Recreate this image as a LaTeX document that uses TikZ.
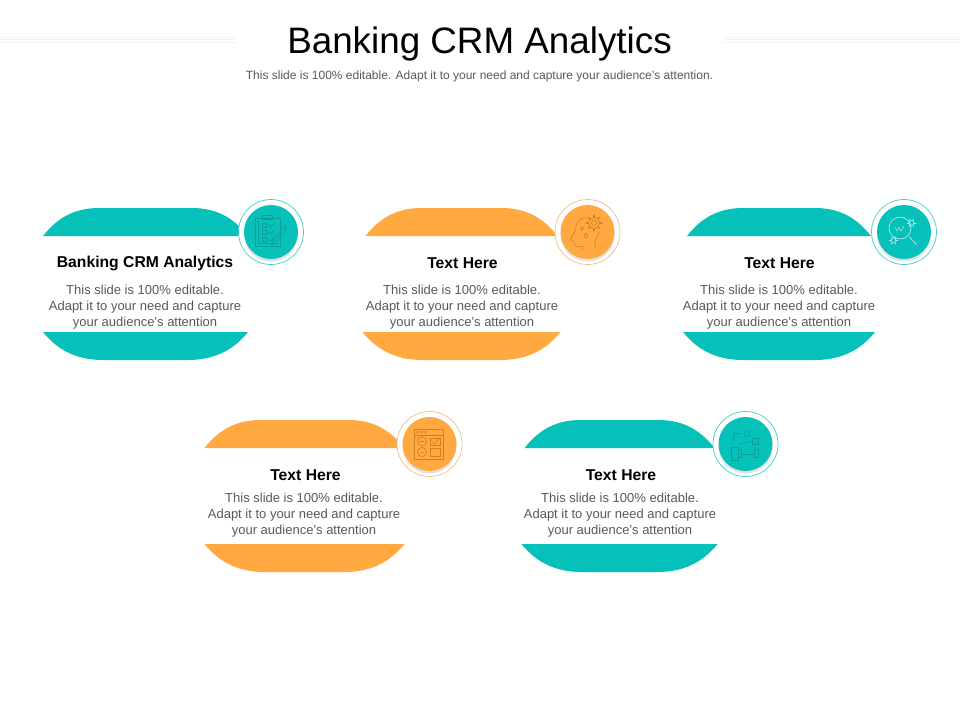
\documentclass[tikz,border=0pt]{standalone}
\usepackage{fontspec}
\setmainfont{Liberation Sans}
\definecolor{tealc}{HTML}{05C1BA}
\definecolor{orangec}{HTML}{FFA940}
\definecolor{bodytxt}{HTML}{595959}
\definecolor{rulec}{HTML}{F1F1F1}
\definecolor{teallineA}{HTML}{0B9F99}
\definecolor{teallineB}{HTML}{BDF0EC}
\definecolor{orangeline}{HTML}{CF7F24}
\definecolor{ringT}{HTML}{3FCFC9}
\definecolor{ringO}{HTML}{F2BE80}
\tikzset{
  titletxt/.style={font=\fontsize{36.8}{44}\selectfont,text=black,inner sep=0pt},
  subtxt/.style={font=\fontsize{12}{14}\selectfont,text=bodytxt,inner sep=0pt},
  headtxt/.style={font=\bfseries\fontsize{15.7}{18}\selectfont,text=black,inner sep=0pt},
  bodyblock/.style={font=\fontsize{13}{16}\selectfont,text=bodytxt,align=center,inner sep=0pt},
  headrule/.style={draw=rulec,line width=0.8pt},
  iconline/.style={line width=0.6pt,line join=round,line cap=round}
}
% \cardshape{centre x}{top y}{top half width}{bottom half width}{colour}
\newcommand{\cardshape}[5]{%
  \begin{scope}[shift={(#1,#2)}]
    \fill[#5] (-#3,28) .. controls (-#3+12,13) and (-#3+28,0) .. (-#3+56,0)
      -- (#3-56,0) .. controls (#3-28,0) and (#3-12,13) .. (#3,28) -- cycle;
    \fill[#5] (-#4,124) .. controls (-#4+12,139) and (-#4+30,152) .. (-#4+60,152)
      -- (#4-60,152) .. controls (#4-30,152) and (#4-12,139) .. (#4,124) -- cycle;
  \end{scope}}
% \badge{x}{y}{colour}{ring colour}
\newcommand{\badge}[4]{%
  \fill[white] (#1,#2) circle[radius=32.5];
  \draw[#4,line width=0.7pt] (#1,#2) circle[radius=32.5];
  \fill[black!12] (#1,#2+2.5) circle[radius=27];
  \fill[#3] (#1,#2) circle[radius=27];}
\begin{document}
\begin{tikzpicture}[x=1pt,y=-1pt]
\useasboundingbox (0,0) rectangle (960,720);
\fill[white] (0,0) rectangle (960,720);
% header rules
\foreach \yy in {37,39.5,42}{
  \draw[headrule] (0,\yy) -- (236,\yy);
  \draw[headrule] (723,\yy) -- (960,\yy);
}
\node[titletxt] (title) at (479.5,43.5) {Banking CRM Analytics};
\node[subtxt] (subtitle) at (479.5,76) {This slide is 100\% editable. Adapt it to your need and capture your audience’s attention.};
% cards
\cardshape{145.5}{208}{102.5}{102.5}{tealc}
\cardshape{461.5}{208}{96}{99}{orangec}
\cardshape{779}{208}{92}{96}{tealc}
\cardshape{304.5}{420}{100}{100}{orangec}
\cardshape{619.5}{420}{95}{98}{tealc}
% badges
\badge{271}{232}{tealc}{ringT}
\badge{587.5}{232}{orangec}{ringO}
\badge{904}{232}{tealc}{ringT}
\badge{429.5}{444}{orangec}{ringO}
\badge{745.5}{444}{tealc}{ringT}
% texts
\node[headtxt] (h1) at (145,263.5) {Banking CRM Analytics};
\node[headtxt] (h2) at (462.5,263.5) {Text Here};
\node[headtxt] (h3) at (779.5,263.5) {Text Here};
\node[headtxt] (h4) at (305.5,475.5) {Text Here};
\node[headtxt] (h5) at (621,475.5) {Text Here};
\node[bodyblock] (b1) at (145,307) {This slide is 100\% editable.\\Adapt it to your need and capture\\your audience’s attention};
\node[bodyblock] (b2) at (462,307) {This slide is 100\% editable.\\Adapt it to your need and capture\\your audience’s attention};
\node[bodyblock] (b3) at (779,307) {This slide is 100\% editable.\\Adapt it to your need and capture\\your audience’s attention};
\node[bodyblock] (b4) at (304,515) {This slide is 100\% editable.\\Adapt it to your need and capture\\your audience’s attention};
\node[bodyblock] (b5) at (620,515) {This slide is 100\% editable.\\Adapt it to your need and capture\\your audience’s attention};
% icon 1: clipboard
\begin{scope}[iconline,draw=teallineA]
  \draw (255.5,218) rectangle (280,246);
  \draw (258,221) -- (258,243.5) -- (277.5,243.5);
  \draw (262,215.5) rectangle (272,219.5);
  \foreach \yy in {223,230,237}{
    \draw (262,\yy) rectangle (266,\yy+4);
    \draw (268,\yy+2) -- (271,\yy+4) -- (274,\yy);
  }
  \draw (285,225.5) -- (273,241) -- (271,245) -- (275,243) -- (287,228) -- cycle;
\end{scope}
% icon 2: head with gear
\begin{scope}[iconline,draw=orangeline]
  \draw (595,248) -- (595,241) .. controls (597,238) and (598,235) .. (599,232);
  \draw (587,218) .. controls (580,217) and (576,222) .. (575.5,230)
     -- (570.5,239.5) -- (574,241.5) -- (574.5,245) .. controls (575,247) and (578,247) .. (582,246.5) -- (583,249);
  \draw (594,223) circle[radius=5.5];
  \draw (594,223) circle[radius=2.5];
  \foreach \a in {0,45,...,315}{ \draw[line width=1.3pt] (594,223) ++(\a:5.8) -- ++(\a:2); }
  \draw (582,226.5) -- (583.5,228.5) -- (582,230.5) -- (580.5,228.5) -- cycle;
  \draw (586,233) -- (588,235.5) -- (586,238) -- (584,235.5) -- cycle;
\end{scope}
% icon 3: magnifier with gears
\begin{scope}[iconline,draw=teallineB]
  \draw (900,228) circle[radius=11];
  \draw[line width=0.4pt] (895,227) -- (897,231) -- (899,227.5) -- (901,231) -- (904,226);
  \draw (909,236.5) -- (917,245);
  \draw (911.5,223) circle[radius=2.5];
  \foreach \a in {0,60,...,300}{ \draw (911.5,223) ++(\a:2.5) -- ++(\a:1.8); }
  \draw (893.5,240.5) circle[radius=2.5];
  \foreach \a in {0,60,...,300}{ \draw (893.5,240.5) ++(\a:2.5) -- ++(\a:1.8); }
\end{scope}
% icon 4: window with controls
\begin{scope}[iconline,draw=orangeline]
  \draw (414.5,429) rectangle (443.5,459);
  \draw (414.5,435) -- (443.5,435);
  \foreach \xx in {417.5,421.5,425.5}{ \draw (\xx,432) circle[radius=1]; }
  \draw (422,441.5) circle[radius=4.6];
  \draw (422,452) circle[radius=4.6];
  \draw (420,441.5) -- (424,441.5);
  \draw (420,452) .. controls (421,453.5) and (423,453.5) .. (424,452);
  \draw (430.5,438) rectangle (440,445.5);
  \draw (432.5,441.5) -- (434.5,444) -- (439,438.8);
  \draw (430.5,448) rectangle (440,456);
\end{scope}
% icon 5: flow
\begin{scope}[iconline,draw=teallineA,line width=0.5pt]
  \draw (731,447) rectangle (738,460);
  \draw (738,449) -- (741,449) -- (741,457) -- (738,457);
  \draw (733,441) -- (733,433.5) -- (741,433.5);
  \draw (747,434) circle[radius=3];
  \draw (739,444) -- (752,441);
  \draw (752.5,438.5) rectangle (758,444);
  \draw (741,454.5) -- (754,454.5);
  \draw (754.5,449.5) rectangle (758.5,457);
\end{scope}
\end{tikzpicture}
\end{document}
